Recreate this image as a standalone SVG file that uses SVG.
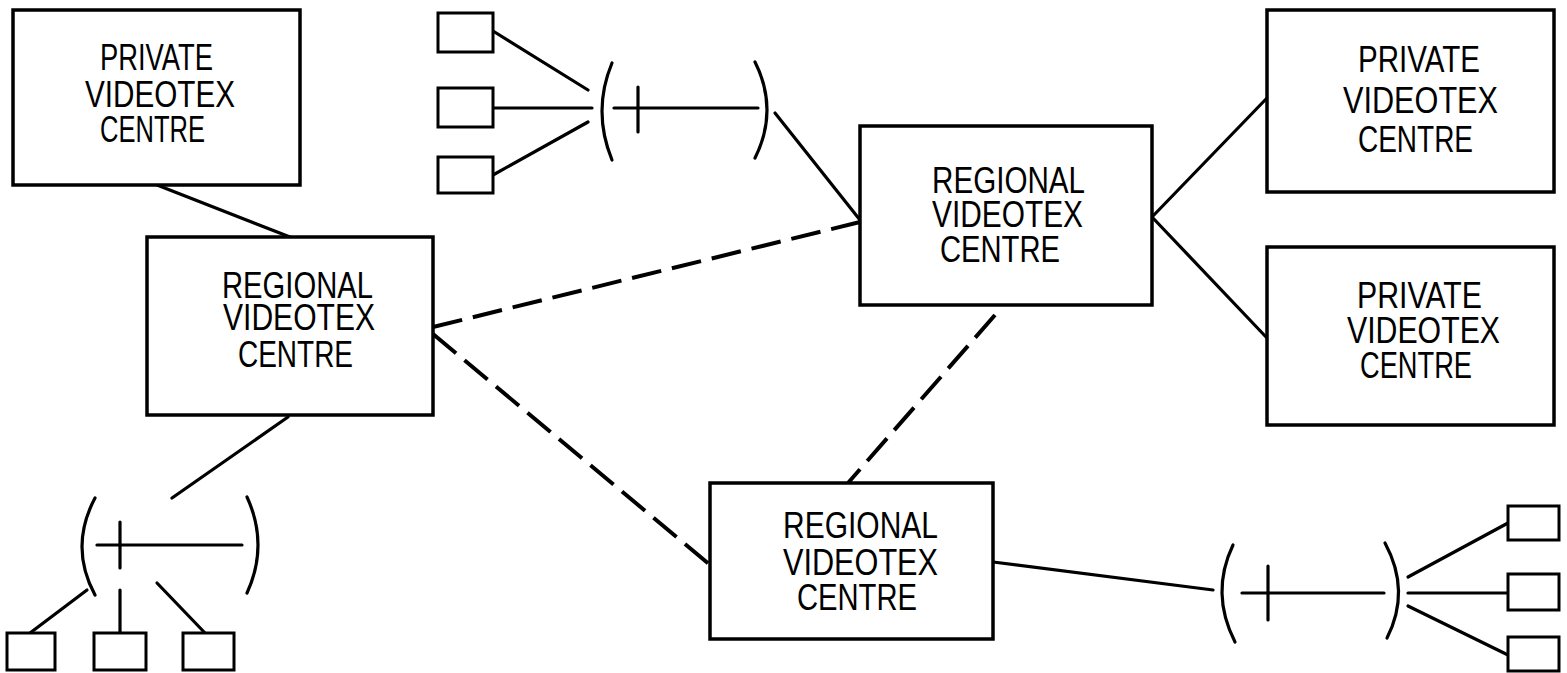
<svg xmlns="http://www.w3.org/2000/svg" width="1567" height="673" viewBox="0 0 1567 673">
<style>
.box{fill:#fff;stroke:#000;stroke-width:3.5}
.term{fill:#fff;stroke:#000;stroke-width:3}
.ln{fill:none;stroke:#000;stroke-width:3.2;stroke-linecap:round}
.dash{fill:none;stroke:#000;stroke-width:4;stroke-dasharray:30 11}
.lbl{font-family:"Liberation Sans",Arial,sans-serif;font-size:36px;fill:#000}
</style>
<rect width="1567" height="673" fill="#fff"/>
<g id="connectors">
<line class="ln" x1="157" y1="185" x2="290" y2="237"/>
<line class="ln" x1="288" y1="417" x2="172" y2="498"/>
<line class="dash" x1="433" y1="327" x2="860" y2="222"/>
<line class="dash" x1="433" y1="334" x2="709" y2="564"/>
<line class="dash" x1="995" y1="315" x2="848" y2="483"/>
<line class="ln" x1="775" y1="113" x2="860" y2="220"/>
<line class="ln" x1="1152" y1="217" x2="1267" y2="98"/>
<line class="ln" x1="1152" y1="217" x2="1267" y2="338"/>
<line class="ln" x1="993" y1="562" x2="1213" y2="590"/>
<line class="ln" x1="493" y1="31" x2="588" y2="90"/>
<line class="ln" x1="493" y1="108" x2="592" y2="108"/>
<line class="ln" x1="493" y1="175" x2="588" y2="122"/>
<line class="ln" x1="87" y1="590" x2="30" y2="633"/>
<line class="ln" x1="120" y1="590" x2="120" y2="633"/>
<line class="ln" x1="157" y1="583" x2="205" y2="633"/>
<line class="ln" x1="1408" y1="577" x2="1508" y2="523"/>
<line class="ln" x1="1408" y1="593" x2="1508" y2="593"/>
<line class="ln" x1="1408" y1="606" x2="1508" y2="655"/>
</g>
<g id="network-top">
<path class="ln" d="M612,63 Q592,111 612,160"/>
<path class="ln" d="M755,62 Q779,110 755,158"/>
<line class="ln" x1="614" y1="108" x2="758" y2="108"/>
<line class="ln" x1="638" y1="87" x2="638" y2="132"/>
</g>
<g id="network-left">
<path class="ln" d="M95,498 Q69,547 95,595"/>
<path class="ln" d="M247,497 Q269,545 247,593"/>
<line class="ln" x1="97" y1="545" x2="242" y2="545"/>
<line class="ln" x1="120" y1="522" x2="120" y2="568"/>
</g>
<g id="network-right">
<path class="ln" d="M1233,545 Q1210,593 1235,642"/>
<path class="ln" d="M1385,543 Q1411,591 1387,638"/>
<line class="ln" x1="1242" y1="593" x2="1384" y2="593"/>
<line class="ln" x1="1268" y1="566" x2="1268" y2="620"/>
</g>
<g id="terminals-top">
<rect class="term" x="438" y="13" width="55" height="39"/>
<rect class="term" x="438" y="88" width="55" height="39"/>
<rect class="term" x="438" y="157" width="55" height="36"/>
</g>
<g id="terminals-left">
<rect class="term" x="7" y="633" width="48" height="37"/>
<rect class="term" x="94" y="633" width="52" height="37"/>
<rect class="term" x="183" y="633" width="51" height="37"/>
</g>
<g id="terminals-right">
<rect class="term" x="1508" y="506" width="51" height="34"/>
<rect class="term" x="1508" y="574" width="51" height="36"/>
<rect class="term" x="1508" y="637" width="51" height="34"/>
</g>
<g id="private-left">
<rect class="box" x="13" y="10" width="287" height="175"/>
<text class="lbl" x="100" y="70" textLength="113" lengthAdjust="spacingAndGlyphs">PRIVATE</text>
<text class="lbl" x="85" y="107" textLength="150" lengthAdjust="spacingAndGlyphs">VIDEOTEX</text>
<text class="lbl" x="100" y="142" textLength="105" lengthAdjust="spacingAndGlyphs">CENTRE</text>
</g>
<g id="regional-left">
<rect class="box" x="147" y="237" width="286" height="178"/>
<text class="lbl" x="222" y="298" textLength="151" lengthAdjust="spacingAndGlyphs">REGIONAL</text>
<text class="lbl" x="223" y="330" textLength="152" lengthAdjust="spacingAndGlyphs">VIDEOTEX</text>
<text class="lbl" x="238" y="367" textLength="115" lengthAdjust="spacingAndGlyphs">CENTRE</text>
</g>
<g id="regional-top">
<rect class="box" x="860" y="126" width="292" height="179"/>
<text class="lbl" x="932" y="193" textLength="153" lengthAdjust="spacingAndGlyphs">REGIONAL</text>
<text class="lbl" x="932" y="227" textLength="151" lengthAdjust="spacingAndGlyphs">VIDEOTEX</text>
<text class="lbl" x="940" y="262" textLength="120" lengthAdjust="spacingAndGlyphs">CENTRE</text>
</g>
<g id="private-top-right">
<rect class="box" x="1267" y="10" width="287" height="182"/>
<text class="lbl" x="1358" y="72" textLength="122" lengthAdjust="spacingAndGlyphs">PRIVATE</text>
<text class="lbl" x="1343" y="113" textLength="155" lengthAdjust="spacingAndGlyphs">VIDEOTEX</text>
<text class="lbl" x="1358" y="152" textLength="115" lengthAdjust="spacingAndGlyphs">CENTRE</text>
</g>
<g id="private-bottom-right">
<rect class="box" x="1267" y="247" width="287" height="178"/>
<text class="lbl" x="1357" y="308" textLength="125" lengthAdjust="spacingAndGlyphs">PRIVATE</text>
<text class="lbl" x="1347" y="343" textLength="153" lengthAdjust="spacingAndGlyphs">VIDEOTEX</text>
<text class="lbl" x="1360" y="378" textLength="112" lengthAdjust="spacingAndGlyphs">CENTRE</text>
</g>
<g id="regional-bottom">
<rect class="box" x="710" y="483" width="283" height="156"/>
<text class="lbl" x="783" y="538" textLength="155" lengthAdjust="spacingAndGlyphs">REGIONAL</text>
<text class="lbl" x="783" y="575" textLength="155" lengthAdjust="spacingAndGlyphs">VIDEOTEX</text>
<text class="lbl" x="797" y="610" textLength="120" lengthAdjust="spacingAndGlyphs">CENTRE</text>
</g>
</svg>
